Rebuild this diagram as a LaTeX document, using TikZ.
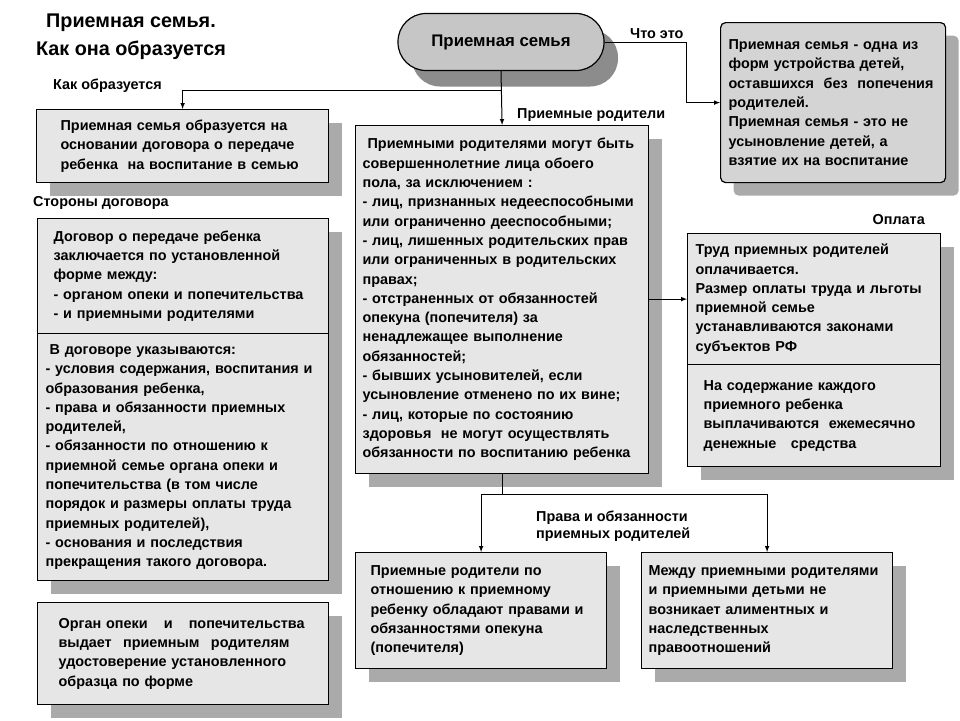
\documentclass[tikz,border=0pt]{standalone}
\usepackage{fontspec}
\setmainfont{Liberation Sans}
\usepackage{tikz}
\usetikzlibrary{shadows}

\definecolor{cardfill}{HTML}{E6E6E6}
\definecolor{whatfill}{HTML}{D4D4D4}
\definecolor{famfill}{HTML}{C6C6C6}
\definecolor{shade}{HTML}{AAAAAA}
\definecolor{famshade}{HTML}{8C8C8C}

\newcommand\cardfont{\fontsize{14.4}{19.3}\selectfont\bfseries}

\begin{document}
\begin{tikzpicture}[>=latex, x=1pt, y=-1pt,
    card/.style={draw, line width=1.2pt, fill=cardfill, anchor=north west,
        inner ysep=0pt, align=left, font=\cardfont,
        general shadow={fill=shade, shadow xshift=13pt, shadow yshift=-13pt}},
    tag/.style={font=\cardfont, inner sep=0pt},
    link/.style={line width=1pt}]
    \useasboundingbox[fill=white] (0,0) rectangle (960,720);
    % heading
    \node[align=center, font=\fontsize{19.8}{28}\selectfont\bfseries] (title) at (131,37)
        {Приемная семья.\\Как она образуется};
    \node[draw, line width=1.2pt, fill=famfill, rounded corners=28pt,
        minimum width=206pt, minimum height=57pt, font=\fontsize{16.8}{18}\selectfont\bfseries,
        general shadow={fill=famshade, shadow xshift=14pt, shadow yshift=-16pt}]
        (fam) at (501,42) {Приемная семья};
    % boxes
    \node[card, inner xsep=24pt, text width=244pt, minimum height=73pt] (formed) at (36,109)
        {Приемная семья образуется на\\основании договора о передаче\\ребенка\ \ на воспитание в семью};
    \node[card, inner xsep=16pt, text width=259pt, minimum height=115pt] (contract) at (37,218)
        {Договор о передаче ребенка\\заключается по установленной\\форме между:\\- органом опеки и попечительства\\- и приемными родителями};
    \node[card, inner xsep=8pt, text width=275pt, minimum height=247pt] (terms) at (37,333)
        {\hspace*{4pt}В договоре указываются:\\- условия содержания, воспитания и\\образования ребенка,\\- права и обязанности приемных\\родителей,\\- обязанности по отношению к\\приемной семье органа опеки и\\попечительства (в том числе\\порядок и размеры оплаты труда\\приемных родителей),\\- основания и последствия\\прекращения такого договора.};
    \node[card, inner xsep=21pt, text width=249pt, minimum height=102pt] (organ) at (37,602)
        {\makebox[246pt][l]{Орган опеки\hfill и\hfill попечительства}\\\makebox[231pt][l]{выдает\hfill приемным\hfill родителям}\\удостоверение установленного\\образца по форме};
    \node[card, inner xsep=7pt, text width=279pt, minimum height=348pt] (parents) at (355,125)
        {\hspace*{5pt}Приемными родителями могут быть\\совершеннолетние лица обоего\\пола, за исключением :\\- лиц, признанных недееспособными\\или ограниченно дееспособными;\\- лиц, лишенных родительских прав\\или ограниченных в родительских\\правах;\\- отстраненных от обязанностей\\опекуна (попечителя) за\\ненадлежащее выполнение\\обязанностей;\\- бывших усыновителей, если\\усыновление отменено по их вине;\\- лиц, которые по состоянию\\здоровья\ \ не могут осуществлять\\обязанности по воспитанию ребенка};
    \node[card, fill=whatfill, rounded corners=5pt, inner xsep=8pt, text width=209pt, minimum height=160pt] (what) at (720,22)
        {Приемная семья - одна из\\форм устройства детей,\\оставшихся\ \ без\ \ попечения\\родителей.\\Приемная семья - это не\\усыновление детей, а\\взятие их на воспитание};
    \node[card, inner xsep=8pt, text width=237pt, minimum height=131pt] (pay) at (687,233)
        {Труд приемных родителей\\оплачивается.\\Размер оплаты труда и льготы\\приемной семье\\устанавливаются законами\\субъектов РФ};
    \node[card, inner xsep=16pt, text width=221pt, minimum height=102pt] (money) at (687,364)
        {На содержание каждого\\приемного ребенка\\выплачиваются\ \ ежемесячно\\денежные\ \ \ средства};
    \node[card, inner xsep=15pt, text width=221pt, minimum height=116pt] (guard) at (355,552)
        {Приемные родители по\\отношению к приемному\\ребенку обладают правами и\\обязанностями опекуна\\(попечителя)};
    \node[card, inner xsep=7pt, text width=237pt, minimum height=116pt] (alim) at (641,552)
        {Между приемными родителями\\и приемными детьми не\\возникает алиментных и\\наследственных\\правоотношений};
    % labels
    \node[tag, anchor=west] (howtag) at (53,86) {Как образуется};
    \node[tag, anchor=west] (sidetag) at (33,203) {Стороны договора};
    \node[tag, anchor=west] (partag) at (517,115) {Приемные родители};
    \node[tag, anchor=west] (whattag) at (630,34) {Что это};
    \node[tag, anchor=east] (paytag) at (925,220) {Оплата};
    \node[tag, align=left, anchor=west, font=\fontsize{14.4}{17.5}\selectfont\bfseries] (dutytag) at (536,526)
        {Права и обязанности\\приемных родителей};
    % connectors
    \draw[link, ->] (fam.south) -- (parents.north);
    \draw[link, ->] (fam.south) ++(0,19) -| (formed.north);
    \draw[link, ->] (fam.east) -- ++(82,0) |- (what.west);
    \draw[link, ->] (parents.east |- pay.west) -- (pay.west);
    \draw[link] (parents.south) -- ++(0,20) coordinate (fork);
    \draw[link, ->] (fork) -| (guard.north);
    \draw[link, ->] (fork) -| (alim.north);
\end{tikzpicture}
\end{document}
